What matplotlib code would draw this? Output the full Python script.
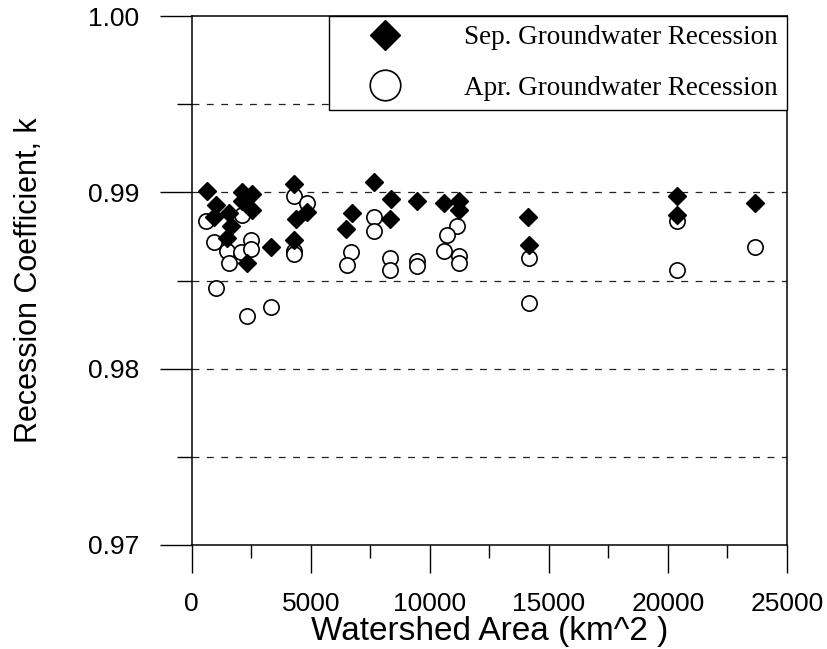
import matplotlib
matplotlib.use("Agg")
import matplotlib.pyplot as plt
from matplotlib.lines import Line2D
from matplotlib.ticker import MultipleLocator

# Sep. groundwater recession (filled diamonds)
sep_area = [659, 1007, 935, 1565, 1636, 1498, 2127, 2546, 2127, 2546, 2337, 3314,
            4292, 4363, 4854, 4292, 7649, 8377, 9468, 10585, 11214, 11214, 6741,
            6460, 8348, 14110, 14152, 20376, 20376, 23660]
sep_k = [0.9901, 0.9893, 0.9886, 0.9888, 0.9881, 0.9874, 0.9900, 0.9899, 0.9895,
         0.9890, 0.9860, 0.9869, 0.9905, 0.9885, 0.9889, 0.9873, 0.9906, 0.9896,
         0.9895, 0.9894, 0.9895, 0.9890, 0.9888, 0.9879, 0.9885, 0.9886, 0.9870,
         0.9898, 0.9887, 0.9894]

# Apr. groundwater recession (open circles)
apr_area = [587, 935, 1498, 1565, 2056, 2475, 2475, 2127, 1007, 2337, 3343, 4292,
            4854, 4292, 4292, 7649, 7649, 6670, 6532, 8348, 8348, 9468, 9468,
            11144, 10725, 10585, 11214, 11214, 14152, 14152, 20376, 20376, 23660]
apr_k = [0.9884, 0.9872, 0.9867, 0.9860, 0.9866, 0.9873, 0.9868, 0.9887, 0.9846,
         0.9830, 0.9835, 0.9898, 0.9894, 0.9867, 0.9865, 0.9886, 0.9878, 0.9866,
         0.9859, 0.9863, 0.9856, 0.9861, 0.9858, 0.9881, 0.9876, 0.9867, 0.9864,
         0.9860, 0.9863, 0.9837, 0.9884, 0.9856, 0.9869]

labels = ["Sep. Groundwater Recession", "Apr. Groundwater Recession"]

plt.rcParams['font.family'] = ['Liberation Sans', 'DejaVu Sans']

fig = plt.figure(figsize=(8.28, 6.49), dpi=100)
ax = fig.add_axes([191.7 / 828, 1 - 545 / 649, (787 - 191.7) / 828, (545 - 16) / 649])

# circles first so the diamonds sit on top
ax.plot(apr_area, apr_k, linestyle='none', marker='o', ms=11,
        markerfacecolor='white', markeredgecolor='black', markeredgewidth=1.2)
ax.plot(sep_area, sep_k, linestyle='none', marker='D', ms=9.3,
        markerfacecolor='black', markeredgecolor='black')

ax.set_xlim(0, 25000)
ax.set_ylim(0.97, 1.00)
ax.xaxis.set_major_locator(MultipleLocator(5000))
ax.xaxis.set_minor_locator(MultipleLocator(2500))
ax.yaxis.set_major_locator(MultipleLocator(0.01))
ax.yaxis.set_minor_locator(MultipleLocator(0.005))
ax.yaxis.set_major_formatter(plt.FormatStrFormatter('%.2f'))

# dashed horizontal grid at every 0.005 (the spines cover 0.97 and 1.00)
for yv in [0.975, 0.98, 0.985, 0.99, 0.995]:
    ax.axhline(yv, color='#222222', lw=0.9, linestyle=(0, (5.5, 6)), zorder=0)

ax.tick_params(axis='y', which='major', direction='out', length=23, width=1,
               pad=15, labelsize=19)
ax.tick_params(axis='y', which='minor', direction='out', length=11, width=1)
ax.tick_params(axis='x', which='major', direction='out', length=20, width=1,
               pad=14, labelsize=19)
ax.tick_params(axis='x', which='minor', direction='out', length=9, width=1)
for sp in ax.spines.values():
    sp.set_linewidth(1.1)

ax.set_xlabel("Watershed Area (km^2 )", fontsize=24, labelpad=0)
ax.set_ylabel("Recession Coefficient, k", fontsize=22, labelpad=31)

handles = [
    Line2D([], [], linestyle='none', marker='D', ms=15.5, markerfacecolor='black',
           markeredgecolor='black'),
    Line2D([], [], linestyle='none', marker='o', ms=22, markerfacecolor='white',
           markeredgecolor='black', markeredgewidth=1.2),
]
leg = ax.legend(handles, labels, loc='upper right', borderaxespad=0,
                prop={'family': 'Liberation Serif', 'size': 19.5},
                fancybox=False, framealpha=1, edgecolor='black',
                handlelength=3.45, handletextpad=1.2, borderpad=0.34,
                labelspacing=0.95)
leg.get_frame().set_linewidth(1.0)

fig.savefig("out.png", dpi=100)
